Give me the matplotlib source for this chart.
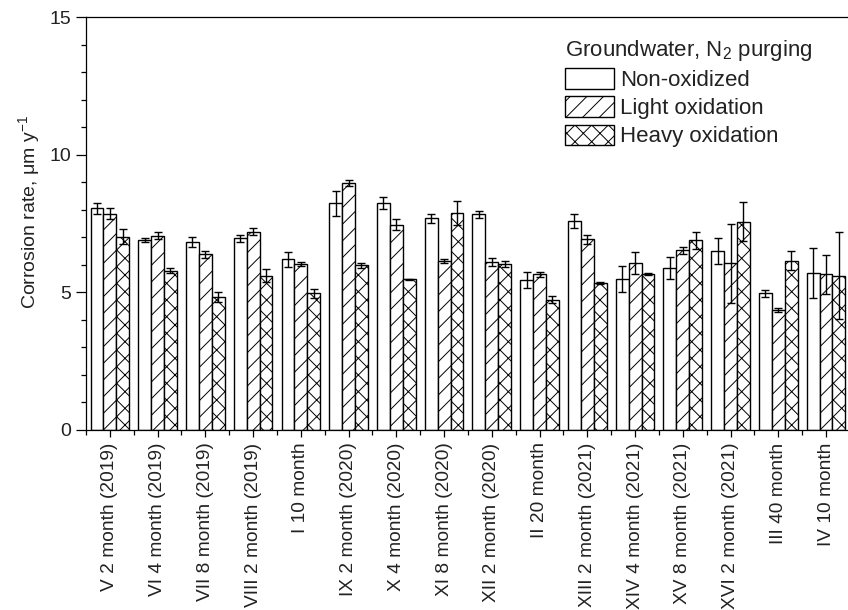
import numpy as np
import matplotlib
matplotlib.use("Agg")
import matplotlib.pyplot as plt
from matplotlib.ticker import MultipleLocator

plt.rcParams['font.family'] = ['Liberation Sans', 'DejaVu Sans']
plt.rcParams['mathtext.default'] = 'regular'
plt.rcParams['hatch.linewidth'] = 0.7

# Datos
muestras = ["V 2 month (2019)", "VI 4 month (2019)", "VII 8 month (2019)",
            "VIII 2 month (2019)", "I 10 month", "IX 2 month (2020)",
            "X 4 month (2020)", "XI 8 month (2020)", "XII 2 month (2020)",
            "II 20 month", "XIII 2 month (2021)", "XIV 4 month (2021)",
            "XV 8 month (2021)", "XVI 2 month (2021)", "III 40 month",
            "IV 10 month"]

no_oxidado = [8.05, 6.89, 6.84, 6.97, 6.20, 8.23, 8.25, 7.69, 7.83, 5.45,
              7.60, 5.47, 5.88, 6.51, 4.96, 5.70]
err_no_oxidado = [0.19, 0.07, 0.18, 0.13, 0.27, 0.46, 0.23, 0.16, 0.13, 0.28,
                  0.25, 0.47, 0.39, 0.47, 0.13, 0.90]

oxid_ligera = [7.85, 7.06, 6.38, 7.20, 6.02, 8.98, 7.45, 6.15, 6.11, 5.65,
               6.93, 6.07, 6.53, 6.05, 4.35, 5.65]
err_oxid_ligera = [0.20, 0.13, 0.13, 0.13, 0.08, 0.10, 0.20, 0.07, 0.15, 0.08,
                   0.16, 0.39, 0.13, 1.42, 0.08, 0.71]

oxid_fuerte = [7.02, 5.79, 4.83, 5.61, 4.96, 5.98, 5.48, 7.87, 6.02, 4.73,
               5.34, 5.67, 6.89, 7.57, 6.15, 5.61]
err_oxid_fuerte = [0.28, 0.10, 0.18, 0.24, 0.16, 0.08, 0.02, 0.44, 0.10, 0.13,
                   0.02, 0.05, 0.31, 0.71, 0.34, 1.59]

series = [
    ("Non-oxidized", no_oxidado, err_no_oxidado, ""),
    ("Light oxidation", oxid_ligera, err_oxid_ligera, "//"),
    ("Heavy oxidation", oxid_fuerte, err_oxid_fuerte, "xx"),
]

color_texto = "#222222"

fig = plt.figure(figsize=(8.48, 6.10), dpi=100)
ax = fig.add_axes([0.1014, 0.2951, 0.8986, 0.677])

x = np.arange(len(muestras))
ancho = 0.27

for i, (nombre, valores, errores, trama) in enumerate(series):
    pos = x + (i - 1) * ancho
    ax.bar(pos, valores, ancho, facecolor="white", edgecolor="black",
           linewidth=1.0, hatch=trama, label=nombre, zorder=2)
    ax.errorbar(pos, valores, yerr=errores, fmt="none", ecolor="black",
                elinewidth=1.0, capsize=3, capthick=1.0, zorder=3)

ax.set_xlim(-0.5, 15.46)
ax.set_ylim(0, 15)
ax.set_xticks(x)
ax.set_xticklabels(muestras, rotation=90, fontsize=13.8, color=color_texto)
ax.xaxis.set_minor_locator(MultipleLocator(1, offset=0.5))
ax.yaxis.set_major_locator(MultipleLocator(5))
ax.yaxis.set_minor_locator(MultipleLocator(1))

ax.tick_params(axis="x", which="major", direction="out", length=5, width=0.9,
               pad=4)
ax.tick_params(axis="x", which="minor", direction="out", length=3.5, width=0.9)
ax.tick_params(axis="y", which="major", direction="out", length=7, width=0.9,
               labelsize=14, labelcolor=color_texto, pad=3.5)
ax.tick_params(axis="y", which="minor", direction="out", length=3.5, width=0.9)

for lado in ["left", "bottom", "top"]:
    ax.spines[lado].set_linewidth(0.9)
ax.spines["right"].set_visible(False)

ax.set_ylabel("Corrosion rate, μm y$^{-1}$", fontsize=14, color=color_texto)
ax.yaxis.set_label_coords(-0.0575, 0.527)

leg = ax.legend(loc="upper left", bbox_to_anchor=(565 / 848, 1 - 38 / 610),
                bbox_transform=fig.transFigure, frameon=False, fontsize=16,
                title="Groundwater, N$_2$ purging", title_fontsize=16,
                handlelength=2.2, handleheight=1.04, handletextpad=0.27,
                labelspacing=0.24, borderpad=0, borderaxespad=0,
                alignment="left")
for t in leg.get_texts():
    t.set_color(color_texto)
leg.get_title().set_color(color_texto)

fig.savefig("out.png", dpi=100)
